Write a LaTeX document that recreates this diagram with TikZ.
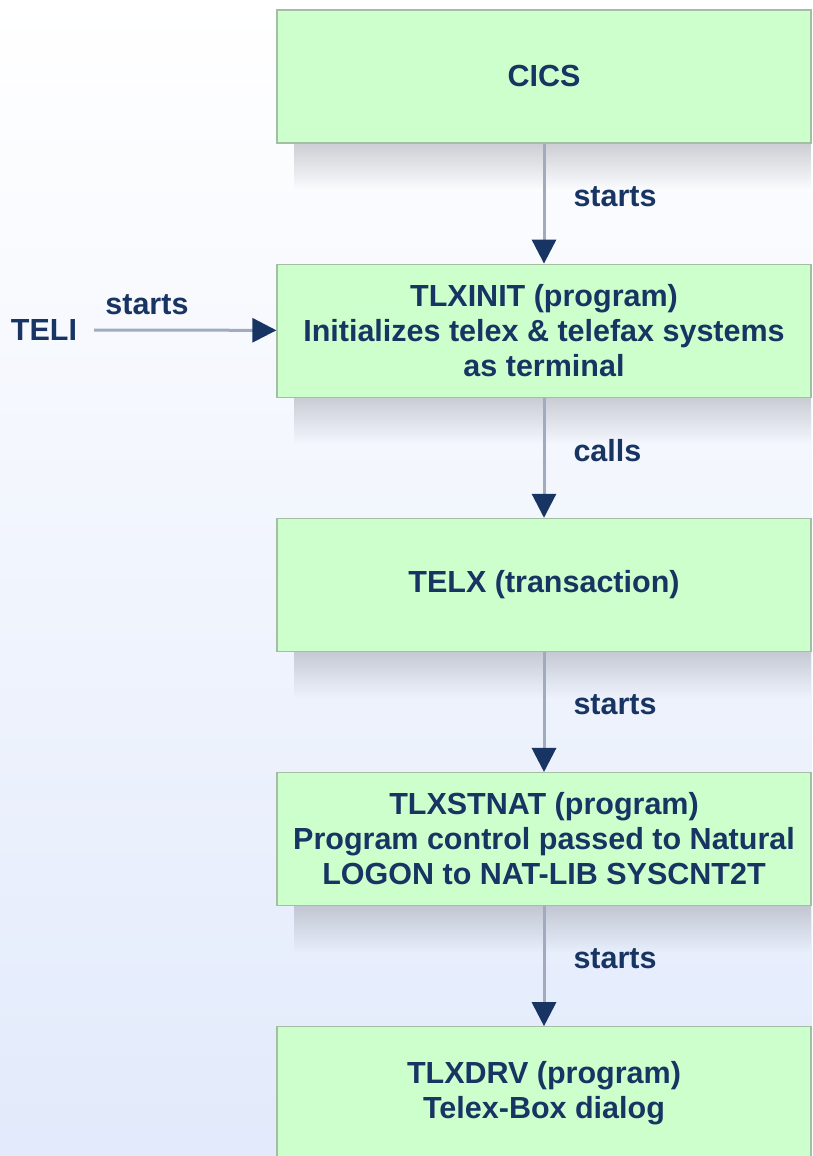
\documentclass[tikz,border=0pt]{standalone}
\usepackage{fontspec}
\setmainfont{Liberation Sans}
\usetikzlibrary{positioning,arrows.meta,fadings}
\definecolor{boxgreen}{RGB}{204,255,204}
\definecolor{boxline}{RGB}{164,190,164}
\definecolor{navy}{RGB}{24,52,98}
\definecolor{connGrey}{RGB}{162,170,190}
\definecolor{bgblue}{RGB}{226,234,251}
\definecolor{shadowGrey}{RGB}{150,152,162}

\begin{document}
\begin{tikzpicture}[x=1pt, y=1pt, node distance=120pt,
  stepbox/.style={draw=boxline, line width=1.2pt, fill=boxgreen, minimum width=534pt, minimum height=133pt,
    align=center, text=navy, font=\bfseries\fontsize{30.5}{35}\selectfont},
  lbl/.style={text=navy, font=\bfseries\fontsize{30.5}{35}\selectfont, inner sep=0pt},
  shadowband/.style={fill=shadowGrey, fill opacity=0.45, path fading=south},
  conn/.style={connGrey, line width=3pt, -{Triangle[length=24pt, width=24pt, color=navy]}}]
  \shade[top color=white, bottom color=bgblue, use as bounding box] (0, 0) rectangle (812, 1156);

  % chain of boxes
  \node[stepbox] (cics) at (544, 1079.5) {CICS};
  \node[stepbox, below=of cics] (tlxinit) {TLXINIT (program)\\Initializes telex \& telefax systems\\as terminal};
  \node[stepbox, below=of tlxinit] (telx) {TELX (transaction)};
  \node[stepbox, below=of telx] (tlxstnat) {TLXSTNAT (program)\\Program control passed to Natural\\LOGON to NAT-LIB SYSCNT2T};
  \node[stepbox, below=of tlxstnat] (tlxdrv) {TLXDRV (program)\\Telex-Box dialog};

  % shadows under the boxes
  \path[shadowband] ([xshift=18pt]cics.south west) rectangle ([yshift=-46pt]cics.south east);
  \path[shadowband] ([xshift=18pt]tlxinit.south west) rectangle ([yshift=-46pt]tlxinit.south east);
  \path[shadowband] ([xshift=18pt]telx.south west) rectangle ([yshift=-46pt]telx.south east);
  \path[shadowband] ([xshift=18pt]tlxstnat.south west) rectangle ([yshift=-46pt]tlxstnat.south east);

  % side entry
  \node[lbl] (teli) at (44, 826) {TELI};

  % arrows
  \draw[conn] (cics) -- node[lbl, right=28pt, pos=0.44] {starts} (tlxinit);
  \draw[conn] (tlxinit) -- node[lbl, right=28pt, pos=0.44] {calls} (telx);
  \draw[conn] (telx) -- node[lbl, right=28pt, pos=0.44] {starts} (tlxstnat);
  \draw[conn] (tlxstnat) -- node[lbl, right=28pt, pos=0.44] {starts} (tlxdrv);
  \draw[conn, shorten <=17pt] (teli) -- node[lbl, above=14pt, pos=0.35] {starts} (tlxinit);
\end{tikzpicture}
\end{document}
